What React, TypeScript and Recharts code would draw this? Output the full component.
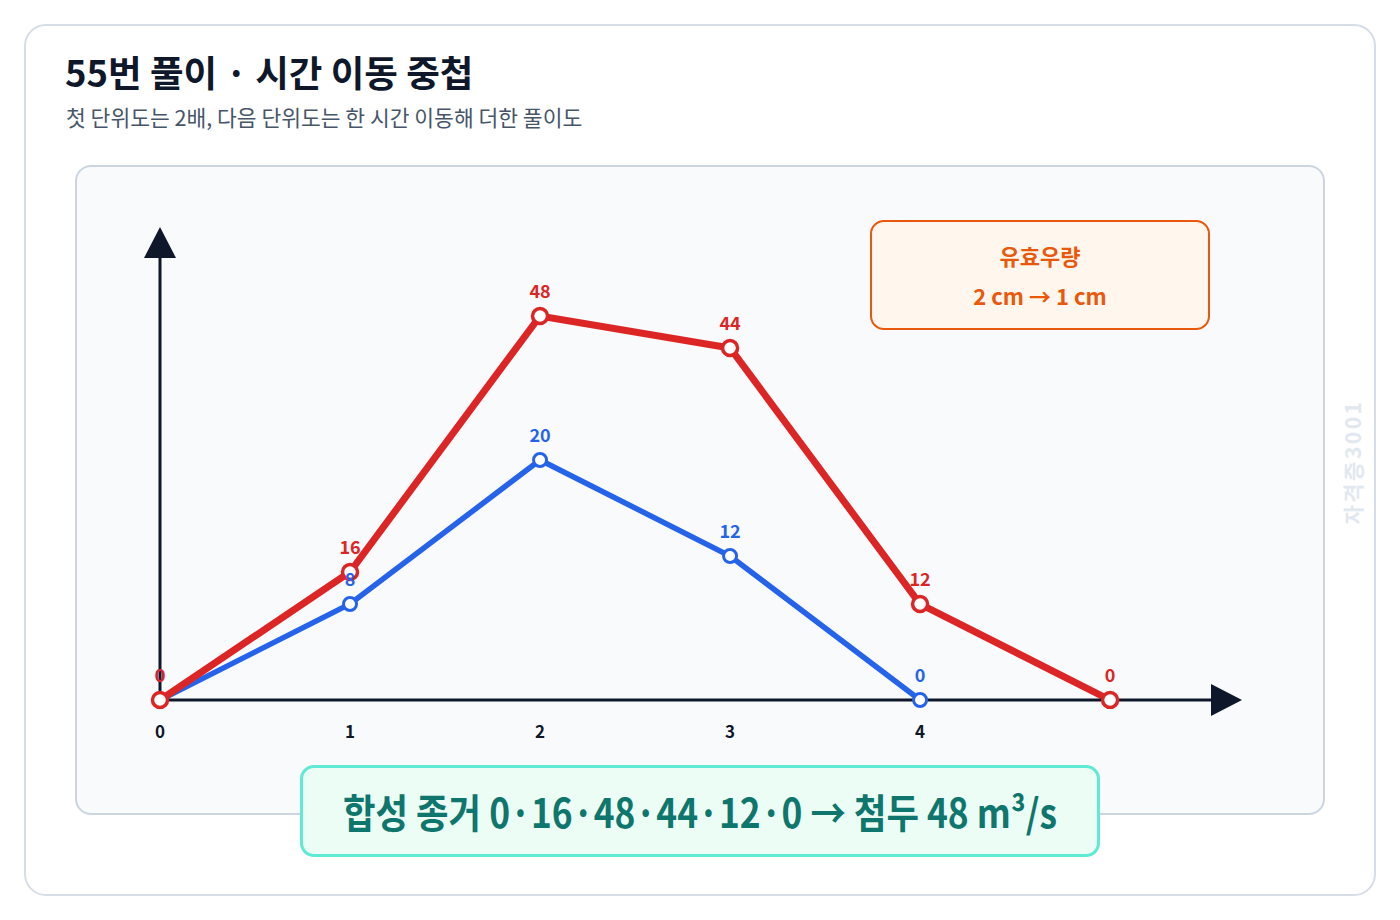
import { LabelList, Line, LineChart, ReferenceDot, XAxis, YAxis } from 'recharts'

// unit hydrograph (blue) and the summed hydrograph (red)
const unitHours = [0, 1, 2, 3, 4]
const unitFlows = [0, 8, 20, 12, 0]
const sumHours = [0, 1, 2, 3, 4, 5]
const sumFlows = [0, 16, 48, 44, 12, 0]
const hourTicks = [0, 1, 2, 3, 4]

const unitData = unitHours.map((t, i) => ({ t, q: unitFlows[i] }))
const sumData = sumHours.map((t, i) => ({ t, q: sumFlows[i] }))

const RED = '#dc2626'
const BLUE = '#2563eb'
const INK = '#0f172a'
const FONT = '"Noto Sans CJK KR", "Noto Sans", sans-serif'

const X_MAX = 5.61
const RED_MAX = 57
const BLUE_MAX = 38

function RightArrow(p: any) {
  const { cx, cy } = p
  return <polygon points={`${cx - 15},${cy - 16} ${cx + 16},${cy} ${cx - 15},${cy + 16}`} fill={INK} />
}

function UpArrow(p: any) {
  const { cx, cy } = p
  return <polygon points={`${cx},${cy - 17} ${cx + 16},${cy + 14} ${cx - 16},${cy + 14}`} fill={INK} />
}

export default function App() {
  return (
    <div style={{ position: 'relative', width: 1384, height: 904, fontFamily: FONT }}>
      <div
        style={{
          position: 'absolute', left: 16, top: 16, width: 1352, height: 872, boxSizing: 'border-box',
          border: '2px solid #d6dde8', borderRadius: 22, background: '#fff',
        }}
      />
      <div style={{ position: 'absolute', left: 57, top: 46, fontSize: 36.5, lineHeight: '36px', fontWeight: 700, color: INK, whiteSpace: 'nowrap' }}>
        55번 풀이 · 시간 이동 중첩
      </div>
      <div style={{ position: 'absolute', left: 58, top: 98, fontSize: 21.5, lineHeight: '21px', color: '#475569', whiteSpace: 'nowrap' }}>
        첫 단위도는 2배, 다음 단위도는 한 시간 이동해 더한 풀이도
      </div>
      <div
        style={{
          position: 'absolute', left: 67, top: 157, width: 1250, height: 650, boxSizing: 'border-box',
          border: '2px solid #cbd5e1', borderRadius: 16, background: '#f8fafc',
        }}
      />
      <div
        style={{
          position: 'absolute', left: 1344, top: 454, transform: 'translate(-50%, -50%) rotate(-90deg)',
          fontSize: 21, letterSpacing: 2.5, fontWeight: 600, color: '#e2e8f0', whiteSpace: 'nowrap',
        }}
      >
        자격증3001
      </div>

      <div style={{ position: 'absolute', left: 92, top: 192 }}>
        <LineChart width={1166} height={560} margin={{ top: 44, right: 40, bottom: 20, left: 59 }} style={{ fontFamily: FONT }}>
          <XAxis
            type="number"
            dataKey="t"
            domain={[0, X_MAX]}
            ticks={hourTicks}
            allowDataOverflow
            height={40}
            tickLine={false}
            tickSize={0}
            tickMargin={26}
            axisLine={{ stroke: INK, strokeWidth: 3 }}
            tick={{ fill: INK, fontSize: 17, fontWeight: 700 }}
          />
          <YAxis
            yAxisId="sum"
            type="number"
            domain={[0, RED_MAX]}
            allowDataOverflow
            width={1}
            tick={false}
            tickLine={false}
            axisLine={{ stroke: INK, strokeWidth: 3 }}
          />
          <YAxis yAxisId="unit" type="number" domain={[0, BLUE_MAX]} allowDataOverflow hide />
          <ReferenceDot yAxisId="sum" x={X_MAX} y={0} ifOverflow="visible" shape={RightArrow} />
          <ReferenceDot yAxisId="sum" x={0} y={RED_MAX} ifOverflow="visible" shape={UpArrow} />
          <Line
            yAxisId="unit"
            data={unitData}
            dataKey="q"
            stroke={BLUE}
            strokeWidth={5.5}
            dot={{ r: 6.5, fill: '#fff', stroke: BLUE, strokeWidth: 3, clipDot: false }}
            activeDot={false}
            isAnimationActive={false}
          >
            <LabelList dataKey="q" position="top" offset={18} fill={BLUE} fontSize={18} fontWeight={700} />
          </Line>
          <Line
            yAxisId="sum"
            data={sumData}
            dataKey="q"
            stroke={RED}
            strokeWidth={7}
            dot={{ r: 7.5, fill: '#fff', stroke: RED, strokeWidth: 3.5, clipDot: false }}
            activeDot={false}
            isAnimationActive={false}
          >
            <LabelList dataKey="q" position="top" offset={18} fill={RED} fontSize={18} fontWeight={700} />
          </Line>
        </LineChart>
      </div>

      <div
        style={{
          position: 'absolute', left: 862, top: 212, width: 340, height: 110, boxSizing: 'border-box',
          border: '2.5px solid #ea580c', borderRadius: 14, background: '#fff7ed', color: '#ea580c',
          fontSize: 22, fontWeight: 700,
        }}
      >
        <div style={{ position: 'absolute', left: 0, right: 0, top: 21.5, lineHeight: '22px', textAlign: 'center' }}>유효우량</div>
        <div style={{ position: 'absolute', left: 0, right: 0, top: 61.5, lineHeight: '22px', textAlign: 'center' }}>2 cm → 1 cm</div>
      </div>

      <div
        style={{
          position: 'absolute', left: 292, top: 757, width: 800, height: 92, boxSizing: 'border-box',
          border: '3px solid #5eead4', borderRadius: 14, background: '#ecfdf5',
        }}
      >
        <svg width={794} height={86} style={{ position: 'absolute', left: 0, top: 0, overflow: 'visible' }}>
          <text
            x={397}
            y={60}
            textAnchor="middle"
            textLength={714}
            lengthAdjust="spacingAndGlyphs"
            fontSize={40}
            fontWeight={700}
            fill="#0f766e"
            fontFamily={FONT}
          >
            합성 종거 0·16·48·44·12·0 → 첨두 48 m³/s
          </text>
        </svg>
      </div>
    </div>
  )
}
